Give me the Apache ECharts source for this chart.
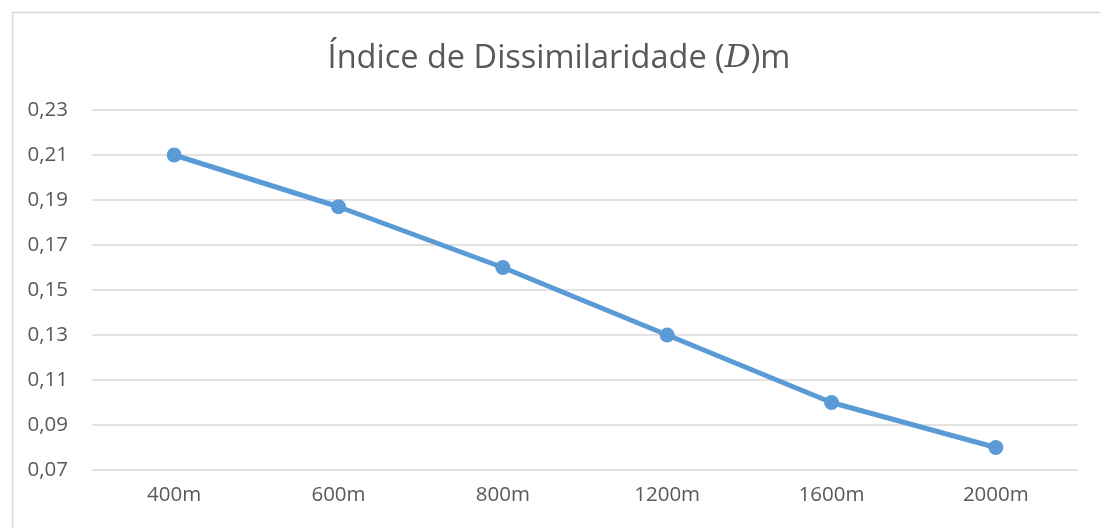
<!DOCTYPE html>
<html>
<head>
<meta charset="utf-8">
<script src="https://cdn.jsdelivr.net/npm/echarts@6/dist/echarts.min.js"></script>
<style>
  html, body { margin: 0; padding: 0; background: #fff; }
  #main { width: 1100px; height: 528px; }
</style>
</head>
<body>
<div id="main"></div>
<script>
var distancias = ['400m', '600m', '800m', '1200m', '1600m', '2000m'];
var indiceD = [0.21, 0.187, 0.16, 0.13, 0.10, 0.08];
var yMin = 0.07, yMax = 0.23, yPasso = 0.02;

var myecharts = echarts.init(document.getElementById('main'));
var fonte = '"Open Sans", "Noto Sans", sans-serif';
var option = {
    backgroundColor: '#fff',
    animation: false,
    graphic: [{
        type: 'rect',
        left: 10, top: 10,
        shape: { width: 1200, height: 600 },
        style: { fill: 'none', stroke: '#d9d9d9', lineWidth: 1.5 },
        silent: true
    }],
    title: {
        text: '{a|Índice de Dissimilaridade (}{b|D}{a|)m}',
        left: 554,
        top: 37,
        textAlign: 'center',
        textStyle: {
            fontWeight: 'normal',
            rich: {
                a: { fontSize: 32.5, color: '#595959', fontFamily: fonte, fontWeight: 'normal' },
                b: { fontSize: 32.5, color: '#595959', fontFamily: '"DejaVu Serif", serif', fontStyle: 'italic', fontWeight: 'normal' }
            }
        }
    },
    color: ['#5B9BD5'],
    grid: { left: 92, right: 22, top: 110, bottom: 58, containLabel: false },
    xAxis: {
        type: 'category',
        data: distancias,
        boundaryGap: true,
        axisLine: { show: false },
        axisTick: { show: false },
        axisLabel: { color: '#595959', fontSize: 20.5, fontFamily: fonte, margin: 15 }
    },
    yAxis: {
        type: 'value',
        min: yMin, max: yMax, interval: yPasso,
        axisLine: { show: false },
        axisTick: { show: false },
        splitLine: { lineStyle: { color: '#d9d9d9', width: 1.5 } },
        axisLabel: {
            color: '#595959', fontSize: 20.5, fontFamily: fonte, margin: 24,
            formatter: function (v) { return v.toFixed(2).replace('.', ','); }
        }
    },
    series: [{
        name: 'Índice de Dissimilaridade',
        type: 'line',
        data: indiceD,
        symbol: 'circle',
        symbolSize: 15,
        lineStyle: { width: 5, color: '#5B9BD5' },
        itemStyle: { color: '#5B9BD5' }
    }]
};
myecharts.setOption(option);
</script>
</body>
</html>
